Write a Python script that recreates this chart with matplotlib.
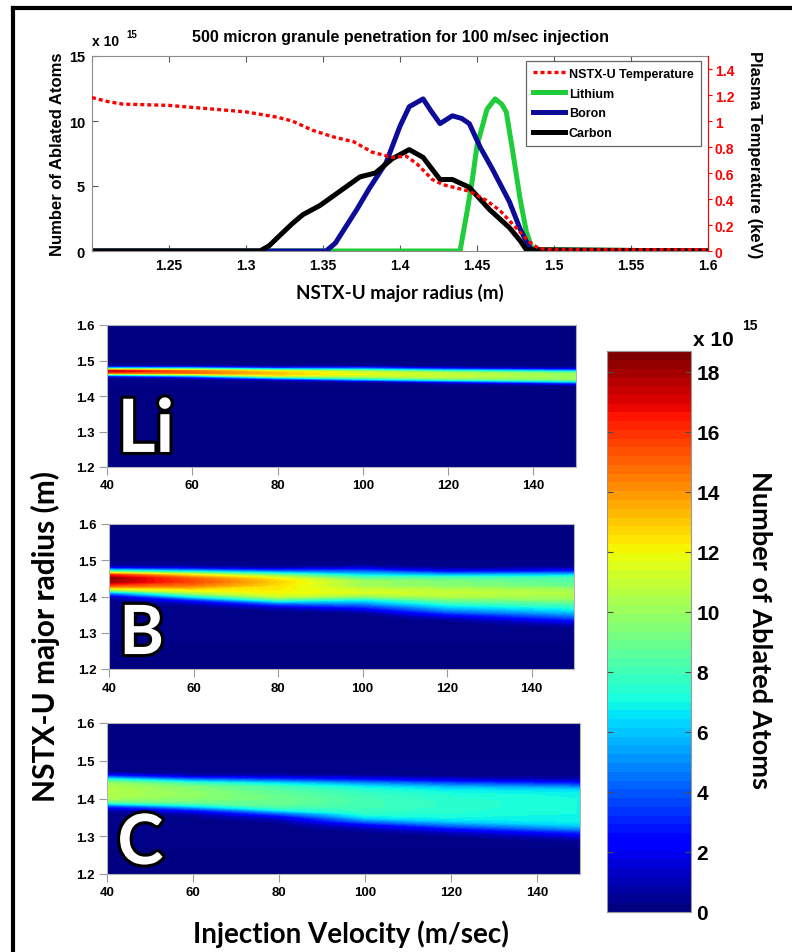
import numpy as np
import matplotlib
matplotlib.use("Agg")
import matplotlib.pyplot as plt
import matplotlib.patheffects as pe
from matplotlib.lines import Line2D

plt.rcParams['font.family'] = ['Liberation Sans', 'DejaVu Sans']
plt.rcParams['font.weight'] = 'bold'
plt.rcParams['axes.labelweight'] = 'bold'
plt.rcParams['axes.titleweight'] = 'bold'

# ---- top panel: profiles at 100 m/sec (atoms in units of 1e15) ----
temp_r = [1.200, 1.210, 1.220, 1.250, 1.280, 1.300, 1.320, 1.330, 1.343, 1.356, 1.370, 1.382,
          1.395, 1.404, 1.411, 1.421, 1.428, 1.445, 1.456, 1.465, 1.476, 1.484, 1.490, 1.500, 1.600]
temp_kev = [1.18, 1.15, 1.13, 1.12, 1.09, 1.07, 1.03, 1.00, 0.93, 0.88, 0.84, 0.76,
            0.72, 0.73, 0.67, 0.55, 0.51, 0.46, 0.39, 0.31, 0.17, 0.07, 0.02, 0.01, 0.01]

li_r = [1.200, 1.439, 1.4435, 1.447, 1.450, 1.4565, 1.4617, 1.466, 1.469, 1.473, 1.478, 1.482, 1.486, 1.600]
li_n = [0, 0, 3.0, 5.5, 8.1, 10.9, 11.7, 11.3, 10.7, 7.8, 4.0, 1.5, 0.1, 0]

b_r = [1.200, 1.352, 1.358, 1.365, 1.372, 1.380, 1.391, 1.400, 1.406, 1.415, 1.420, 1.426,
       1.434, 1.440, 1.445, 1.452, 1.460, 1.471, 1.478, 1.483, 1.486, 1.600]
b_n = [0, 0, 0.6, 1.9, 3.2, 4.8, 6.8, 9.6, 11.1, 11.7, 10.8, 9.8,
       10.4, 10.2, 9.8, 8.0, 6.3, 3.8, 1.7, 0.5, 0, 0]

c_r = [1.200, 1.309, 1.315, 1.322, 1.330, 1.337, 1.348, 1.361, 1.374, 1.384, 1.395, 1.406,
       1.415, 1.426, 1.434, 1.445, 1.458, 1.471, 1.478, 1.482, 1.600]
c_n = [0, 0, 0.4, 1.2, 2.1, 2.8, 3.5, 4.6, 5.7, 6.0, 7.1, 7.8,
       7.2, 5.5, 5.5, 4.9, 3.2, 1.8, 0.8, 0.1, 0]

# ---- maps: ablated atoms (1e15) vs injection velocity and radius ----
map_vel = [40, 60, 80, 100, 120, 150]

li_rad = [1.425, 1.430, 1.435, 1.440, 1.445, 1.450, 1.455, 1.460,
          1.465, 1.470, 1.475, 1.480, 1.485, 1.490, 1.495]
li_map = [
    [0, 0, 0, 0, 0, 0, 1.5, 7, 15, 17.8, 12, 4, 0.5, 0, 0],
    [0, 0, 0, 0, 0, 1.0, 4, 10, 15, 15, 10, 4, 0.5, 0, 0],
    [0, 0, 0, 0, 1, 5, 10, 13, 13, 12, 7, 2, 0.2, 0, 0],
    [0, 0, 0, 0.5, 4.5, 8.1, 10.5, 11.6, 11.5, 10.0, 6.2, 2.8, 0.3, 0, 0],
    [0, 0, 0.5, 3, 7, 10, 11, 11, 10.5, 8, 4, 1, 0, 0, 0],
    [0, 0.5, 2.5, 6, 9, 10, 10, 10, 9, 6, 2.5, 0.5, 0, 0, 0],
]

bc_rad = [1.27, 1.28, 1.29, 1.30, 1.31, 1.32, 1.33, 1.34, 1.35, 1.36, 1.37, 1.38,
          1.39, 1.40, 1.41, 1.42, 1.43, 1.44, 1.45, 1.46, 1.47, 1.48, 1.49, 1.50]
b_map = [
    [0, 0, 0, 0, 0, 0, 0, 0, 0, 0, 0, 0, 0, 1.0, 5.0, 11.0, 15.5, 18.0, 18.5, 16.0, 8.0, 1.5, 0, 0],
    [0, 0, 0, 0, 0, 0, 0, 0, 0, 0, 0.1, 0.8, 3.0, 7.0, 10.5, 12.5, 14.5, 15.5, 15.0, 12.0, 6.0, 1.0, 0, 0],
    [0, 0, 0, 0, 0, 0, 0, 0, 0, 0.2, 1.2, 4.0, 8.0, 11.0, 12.0, 12.3, 12.5, 12.8, 12.0, 9.0, 4.0, 0.5, 0, 0],
    [0, 0, 0, 0, 0, 0, 0, 0, 0, 1.0, 2.8, 4.8, 6.6, 9.6, 11.4, 11.0, 10.0, 10.2, 8.8, 6.3, 4.0, 1.2, 0, 0],
    [0, 0, 0, 0, 0, 0, 0.1, 0.8, 2.5, 4.5, 6.0, 7.5, 9.0, 10.5, 11.0, 10.5, 9.5, 9.5, 8.5, 5.5, 2.0, 0.3, 0, 0],
    [0, 0, 0, 0, 0.1, 0.6, 1.8, 3.5, 5.0, 6.3, 7.3, 8.3, 9.5, 10.3, 10.5, 10.0, 8.8, 8.5, 8.2, 6.0, 2.5, 0.4, 0, 0],
]
c_map = [
    [0, 0, 0, 0, 0, 0, 0, 0, 0, 0.2, 0.8, 3.5, 8.5, 10.3, 10.5, 10.6, 10.5, 10.0, 7.5, 3.0, 0.3, 0, 0, 0],
    [0, 0, 0, 0, 0, 0, 0, 0, 0.2, 0.8, 3.0, 6.5, 9.0, 9.6, 9.8, 9.7, 9.4, 8.0, 4.5, 1.0, 0.1, 0, 0, 0],
    [0, 0, 0, 0, 0, 0, 0.1, 0.5, 1.5, 4.0, 7.0, 8.5, 9.0, 9.0, 8.8, 8.5, 8.0, 6.5, 3.5, 0.8, 0, 0, 0, 0],
    [0, 0, 0, 0, 0.2, 0.8, 2.0, 4.5, 6.5, 7.5, 7.8, 8.0, 8.0, 8.0, 7.8, 7.5, 6.8, 5.0, 2.5, 0.5, 0, 0, 0, 0],
    [0, 0, 0, 0.3, 1.0, 2.5, 4.5, 6.2, 7.0, 7.3, 7.4, 7.5, 7.5, 7.4, 7.2, 6.8, 5.8, 3.8, 1.5, 0.2, 0, 0, 0, 0],
    [0, 0.1, 0.5, 1.5, 3.0, 5.0, 6.3, 6.8, 7.0, 7.0, 7.0, 7.0, 7.0, 7.0, 6.9, 6.5, 5.0, 2.8, 0.8, 0.1, 0, 0, 0, 0],
]

vmax = 18.7
W, H = 792, 953


def box(l, t, r, b):
    return [l / W, 1 - b / H, (r - l) / W, (b - t) / H]


fig = plt.figure(figsize=(W / 100, H / 100), dpi=100)

# ---------------- top line plot ----------------
ax = fig.add_axes(box(92, 57, 708, 252))
l_li, = ax.plot(li_r, li_n, color='#1fcc3a', lw=3.6, label='Lithium')
l_b, = ax.plot(b_r, b_n, color='#0c0c98', lw=3.6, label='Boron')
l_c, = ax.plot(c_r, c_n, color='black', lw=3.6, label='Carbon')
ax.set_xlim(1.2, 1.6)
ax.set_ylim(0, 15)
ax.set_yticks([0, 5, 10, 15])
ax.set_xticks([1.2, 1.25, 1.3, 1.35, 1.4, 1.45, 1.5, 1.55, 1.6])
ax.set_xticklabels(['', '1.25', '1.3', '1.35', '1.4', '1.45', '1.5', '1.55', '1.6'])
ax.tick_params(direction='in', length=4, color='0.35', labelsize=10, top=True, right=True, pad=5)
ax.tick_params(axis='y', labelsize=10.5)
for s in ax.spines.values():
    s.set_color('0.55')
    s.set_linewidth(0.8)
ax.set_ylabel('Number of Ablated Atoms', fontsize=12, labelpad=3)
ax.text(0.0, 1.04, 'x 10', transform=ax.transAxes, fontsize=10, ha='left', va='bottom')
ax.text(0.055, 1.085, '15', transform=ax.transAxes, fontsize=7, ha='left', va='bottom')
ax.set_title('500 micron granule penetration for 100 m/sec injection', fontsize=11.5, pad=11)
ax.set_xlabel('NSTX-U major radius (m)', family='Lato', fontsize=13.5, labelpad=8)

ax2 = ax.twinx()
l_t, = ax2.plot(temp_r, temp_kev, color='red', lw=2.4, dashes=(1.2, 0.9), label='NSTX-U Temperature')
ax2.set_ylim(0, 1.5)
ax2.set_yticks([0, 0.2, 0.4, 0.6, 0.8, 1.0, 1.2, 1.4])
ax2.set_yticklabels(['0', '0.2', '0.4', '0.6', '0.8', '1', '1.2', '1.4'])
ax2.tick_params(axis='y', colors='red', direction='out', length=3, labelsize=10, pad=2)
ax2.spines['right'].set_color('red')
ax2.spines['right'].set_linewidth(0.8)
for k in ['top', 'left', 'bottom']:
    ax2.spines[k].set_visible(False)
ax2.set_ylabel('Plasma Temperature (keV)', fontsize=12, rotation=270, labelpad=20, color='black')

leg = ax2.legend(handles=[l_t, l_li, l_b, l_c], loc='upper right', bbox_to_anchor=(0.988, 0.975),
                 fontsize=9, frameon=True, fancybox=False, handlelength=2.5,
                 labelspacing=0.62, borderpad=0.55, handletextpad=0.35, borderaxespad=0)
leg.get_frame().set_edgecolor('0.25')
leg.get_frame().set_linewidth(0.9)

# ---------------- maps ----------------
cmap = plt.get_cmap('jet', 64)
levels = np.linspace(0, vmax, 65)

panels = [
    (box(107, 326, 576, 468), li_rad, li_map, 'Li', 0.106, 53),
    (box(109, 525, 574, 670), bc_rad, b_map, 'B', 0.103, 49),
    (box(107, 724, 580, 875), bc_rad, c_map, 'C', 0.066, 50),
]
for rect, rad, cols, name, ybase, fsize in panels:
    hax = fig.add_axes(rect)
    hax.set_facecolor(cmap(0))
    Z = np.array(cols).T
    hax.contourf(map_vel, rad, Z, levels=levels, cmap='jet', vmin=0, vmax=vmax, antialiased=False)
    hax.set_xlim(40, 150)
    hax.set_ylim(1.2, 1.6)
    hax.set_xticks([40, 60, 80, 100, 120, 140])
    hax.set_yticks([1.2, 1.3, 1.4, 1.5, 1.6])
    hax.set_yticklabels(['1.2', '1.3', '1.4', '1.5', '1.6'])
    hax.tick_params(direction='out', length=6, color='0.6', labelsize=9.5, pad=3)
    for s in hax.spines.values():
        s.set_color('0.7')
        s.set_linewidth(0.8)
    t = hax.text(0.022, ybase, name, transform=hax.transAxes, family='Lato', fontsize=fsize,
                 fontweight='bold', color='white', ha='left', va='baseline')
    t.set_path_effects([pe.Stroke(linewidth=4.5, foreground='black'), pe.Normal()])

fig.text(45 / W, 1 - 637 / H, 'NSTX-U major radius (m)', family='Lato', fontsize=21.5,
         rotation=90, ha='center', va='center')
fig.text(351 / W, 1 - 934 / H, 'Injection Velocity (m/sec)', family='Lato', fontsize=20,
         ha='center', va='center')

# ---------------- colorbar ----------------
cax = fig.add_axes(box(607, 352, 691, 913))
sm = matplotlib.cm.ScalarMappable(norm=matplotlib.colors.Normalize(0, vmax), cmap=cmap)
cb = fig.colorbar(sm, cax=cax, ticks=[0, 2, 4, 6, 8, 10, 12, 14, 16, 18])
cb.outline.set_edgecolor('0.6')
cb.outline.set_linewidth(0.8)
cax.tick_params(direction='in', length=4, color='0.3', labelsize=15, pad=4, left=True)
fig.text(693 / W, 1 - 341 / H, 'x 10', fontsize=15, ha='left', va='center')
fig.text(742 / W, 1 - 326 / H, '15', fontsize=10, ha='left', va='center')
fig.text(760 / W, 1 - 630 / H, 'Number of Ablated Atoms', family='Lato', fontsize=19.5,
         rotation=270, ha='center', va='center')

# outer frame (top and left edges)
fig.add_artist(Line2D([13 / W, 1.0], [1 - 9 / H, 1 - 9 / H], transform=fig.transFigure, color='black', lw=3))
fig.add_artist(Line2D([13 / W, 13 / W], [0, 1 - 9 / H], transform=fig.transFigure, color='black', lw=3))

fig.savefig('out.png', dpi=100)
